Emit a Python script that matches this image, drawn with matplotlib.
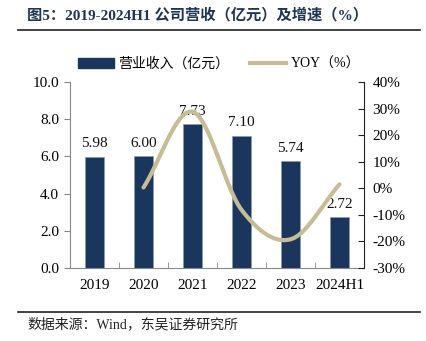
import numpy as np
import matplotlib
matplotlib.use("Agg")
import matplotlib.pyplot as plt
from matplotlib.lines import Line2D
from matplotlib.patches import Patch

categories = ["2019", "2020", "2021", "2022", "2023", "2024H1"]
revenue = [5.98, 6.00, 7.73, 7.10, 5.74, 2.72]
yoy_cats = ["2020", "2021", "2022", "2023", "2024H1"]
yoy = [0.3, 28.8, -8.1, -19.2, 1.5]
left_ticks = [0, 2, 4, 6, 8, 10]
right_ticks = [-30, -20, -10, 0, 10, 20, 30, 40]

NAVY = "#1b365d"
KHAKI = "#c6bc96"
SERIF = ["Liberation Serif", "Noto Sans CJK SC"]

plt.rcParams["font.family"] = SERIF

fig = plt.figure(figsize=(4.26, 3.41), dpi=100)
ax = fig.add_axes([70/426, 1-268/341, 294/426, 186/341])
ax2 = ax.twinx()

x = np.arange(len(categories))
ax.bar(x, revenue, width=0.4, color=NAVY, edgecolor="#8a9bb3", linewidth=0.5, zorder=2)
for xi, v in zip(x, revenue):
    ax.text(xi, v + 0.35, f"{v:.2f}", ha="center", va="bottom", fontsize=11, color="#111111", zorder=5)

ax.set_xlim(-0.5, len(categories) - 0.5)
ax.set_ylim(0, 10)
ax.set_yticks(left_ticks)
ax.set_yticklabels([f"{t:.1f}" for t in left_ticks], fontsize=11)
ax.set_xticks(x)
ax.set_xticklabels(categories, fontsize=11)
ax.set_xticks(np.arange(0.5, len(categories) - 0.5, 1), minor=True)
ax.tick_params(axis="x", which="major", length=0, pad=8)
ax.tick_params(axis="x", which="minor", length=4, direction="in", color="#888888")
ax.tick_params(axis="y", length=4, direction="out", color="#888888", pad=4)
for s in ["top", "right"]:
    ax.spines[s].set_visible(False)
ax.spines["left"].set_color("#888888")
ax.spines["bottom"].set_color("#888888")

# smoothed YOY curve (Catmull-Rom through the points)
xp = np.array([categories.index(c) for c in yoy_cats], dtype=float)
yp = np.array(yoy, dtype=float)
P = np.column_stack([xp, yp])
ext = np.vstack([2*P[0]-P[1], P, 2*P[-1]-P[-2]])
xs, ys = [], []
t = np.linspace(0, 1, 40)
for i in range(1, len(ext) - 2):
    p0, p1, p2, p3 = ext[i-1], ext[i], ext[i+1], ext[i+2]
    pts = 0.5*((2*p1)[None, :] + np.outer(t, -p0+p2) + np.outer(t**2, 2*p0-5*p1+4*p2-p3) + np.outer(t**3, -p0+3*p1-3*p2+p3))
    xs.extend(pts[:, 0]); ys.extend(pts[:, 1])
ax2.plot(xs, ys, color=KHAKI, linewidth=3, solid_capstyle="round", zorder=3)

ax2.set_ylim(-30, 40)
ax2.set_yticks(right_ticks)
ax2.set_yticklabels([f"{t}%" for t in right_ticks], fontsize=11)
ax2.tick_params(axis="y", length=4, direction="in", color="#222222", pad=6)
for s in ["top", "left", "bottom"]:
    ax2.spines[s].set_visible(False)
ax2.spines["right"].set_color("#222222")

handles = [Patch(facecolor=NAVY, edgecolor=NAVY), Line2D([0], [0], color=KHAKI, lw=3)]
leg = fig.legend(handles, ["营业收入（亿元）", "YOY（%）"], loc="center", bbox_to_anchor=(0.5 + 6/426, 1-64/341),
                 ncol=2, frameon=False, prop={"family": SERIF, "size": 10}, handlelength=2.6,
                 handleheight=0.7, columnspacing=1.5, handletextpad=0.3)

fig.text(27/426, 1-15/341, "图5：2019-2024H1 公司营收（亿元）及增速（%）", fontsize=11, fontweight="bold",
         color="#1f3556", family=SERIF, va="center", ha="left")
fig.add_artist(Line2D([18/426, 420/426], [1-30/341, 1-30/341], color="#222222", lw=1.2))
fig.add_artist(Line2D([18/426, 420/426], [1-312/341, 1-312/341], color="#222222", lw=1.2))
fig.text(27/426, 1-324/341, "数据来源：Wind，东吴证券研究所", fontsize=10, color="#222222",
         family=SERIF, va="center", ha="left")

fig.savefig("out.png", dpi=100)
